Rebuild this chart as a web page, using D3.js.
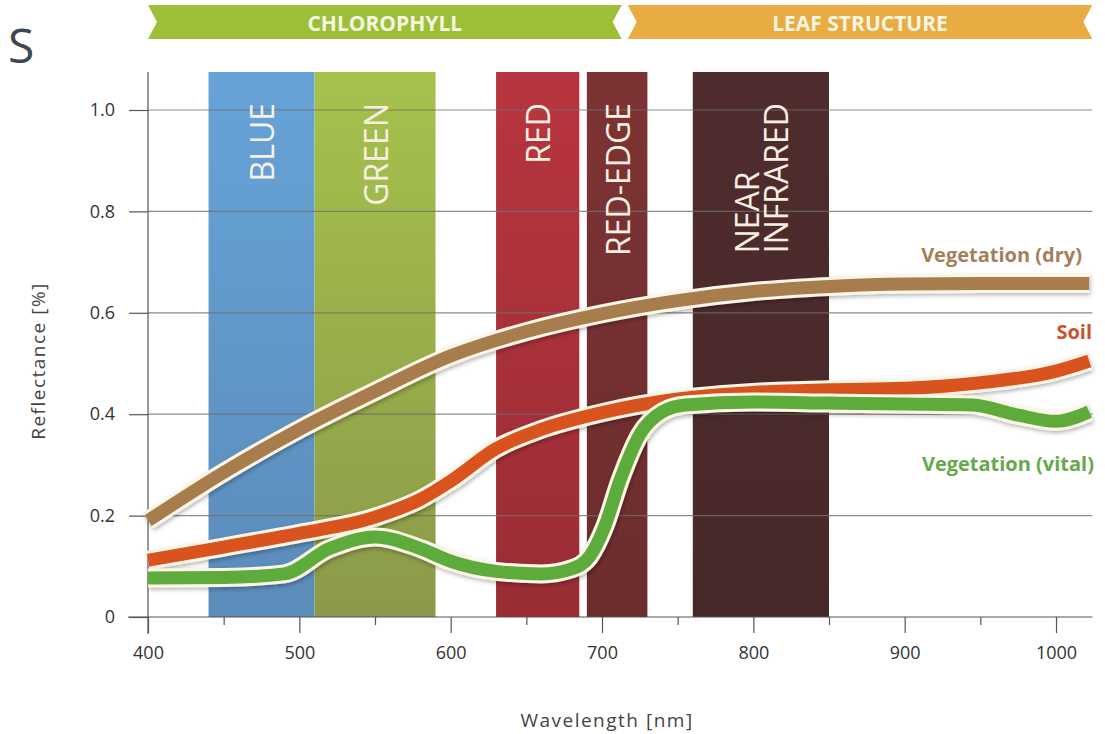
<!DOCTYPE html>
<html>
<head>
<meta charset="utf-8">
<script src="https://cdn.jsdelivr.net/npm/d3@7"></script>
<style>
  body { margin: 0; background: #fff; }
  svg { display: block; font-family: "Open Sans", sans-serif; }
</style>
</head>
<body>
<svg id="chart" width="1105" height="734"></svg>
<script>
// spectral bands (nm)
const bandNames = ['BLUE', 'GREEN', 'RED', 'RED-EDGE', 'NEAR INFRARED'];
const bandStart = [440, 510, 630, 690, 760];
const bandEnd = [510, 590, 685, 730, 850];
const bandColors = [['#67a3d8', '#5b8cba'], ['#a6c24c', '#8b9a4a'], ['#b8353f', '#992c35'], ['#7d3334', '#6c2c2d'], ['#4f2c2e', '#472829']];

// top ribbons
const regionNames = ['CHLOROPHYLL', 'LEAF STRUCTURE'];
const regionStart = [400, 717];
const regionEnd = [713, 1024];
const regionColors = ['#9dbf38', '#e8ac42'];

// reflectance curves
const dryWl = [400, 450, 500, 550, 600, 650, 700, 750, 800, 850, 900, 950, 1000, 1022];
const dryVal = [0.19, 0.285, 0.37, 0.445, 0.515, 0.563, 0.598, 0.624, 0.642, 0.652, 0.657, 0.658, 0.658, 0.658];

const soilWl = [400, 450, 500, 550, 580, 600, 630, 660, 700, 750, 800, 850, 900, 950, 1000, 1022];
const soilVal = [0.112, 0.138, 0.165, 0.197, 0.232, 0.268, 0.332, 0.37, 0.403, 0.43, 0.443, 0.448, 0.451, 0.462, 0.485, 0.505];

const vitalWl = [400, 450, 490, 520, 550, 580, 600, 630, 660, 680, 692, 702, 712, 725, 740, 755, 800, 850, 900, 945, 975, 1000, 1022];
const vitalVal = [0.077, 0.078, 0.085, 0.135, 0.158, 0.135, 0.11, 0.09, 0.085, 0.095, 0.12, 0.18, 0.27, 0.36, 0.405, 0.418, 0.424, 0.422, 0.42, 0.418, 0.398, 0.386, 0.405];

const seriesNames = ['Vegetation (dry)', 'Soil', 'Vegetation (vital)'];
const seriesColors = ['#a87d4e', '#d9531e', '#5dab3b'];
const labelColors = ['#a3805a', '#c9542c', '#65a94a'];

const xTicks = [400, 500, 600, 700, 800, 900, 1000];
const xMinorTicks = [450, 550, 650, 750, 850, 950];
const yTicks = [0, 0.2, 0.4, 0.6, 0.8, 1.0];
const yTickLabels = ['0', '0.2', '0.4', '0.6', '0.8', '1.0'];

const svg = d3.select('#chart');
const x = d3.scaleLinear().domain([400, 1000]).range([148, 1056]);
const y = d3.scaleLinear().domain([0, 1]).range([617, 110]);
const xMax = 1024, yTop = 1.075;
const font = '"Open Sans", sans-serif';

const defs = svg.append('defs');
bandColors.forEach((c, i) => {
  const g = defs.append('linearGradient').attr('id', 'band' + i)
    .attr('x1', 0).attr('y1', 0).attr('x2', 0).attr('y2', 1);
  g.append('stop').attr('offset', '0%').attr('stop-color', c[0]);
  g.append('stop').attr('offset', '100%').attr('stop-color', c[1]);
});
const shadow = defs.append('filter').attr('id', 'shadow')
  .attr('x', '-5%').attr('y', '-20%').attr('width', '110%').attr('height', '140%');
shadow.append('feDropShadow').attr('dx', 1).attr('dy', 2)
  .attr('stdDeviation', 2).attr('flood-color', '#000').attr('flood-opacity', 0.3);

// "S" fragment of a cut-off title
svg.append('text').attr('x', 8).attr('y', 63)
  .attr('font-family', font).attr('font-size', 48).attr('fill', '#3f4852').text('S');

// ribbons
const notch = 9, rTop = 5, rBot = 39;
regionNames.forEach((name, i) => {
  const x0 = x(regionStart[i]), x1 = x(regionEnd[i]), ym = (rTop + rBot) / 2;
  svg.append('path')
    .attr('d', `M${x0},${rTop}L${x1},${rTop}L${x1 - notch},${ym}L${x1},${rBot}L${x0},${rBot}L${x0 + notch},${ym}Z`)
    .attr('fill', regionColors[i]);
  svg.append('text')
    .attr('x', (x0 + x1) / 2).attr('y', ym + 1)
    .attr('text-anchor', 'middle').attr('dominant-baseline', 'central')
    .attr('font-family', font).attr('font-size', 21).attr('font-weight', 700)
    .attr('fill', '#f4f6e2')
    .text(name);
});

// bands
bandNames.forEach((name, i) => {
  svg.append('rect')
    .attr('x', x(bandStart[i])).attr('y', y(yTop))
    .attr('width', x(bandEnd[i]) - x(bandStart[i]))
    .attr('height', y(0) - y(yTop))
    .attr('fill', `url(#band${i})`);
});

// grid lines
svg.append('g').selectAll('line')
  .data(yTicks.slice(1))
  .join('line')
  .attr('x1', x(400)).attr('x2', x(xMax))
  .attr('y1', d => y(d)).attr('y2', d => y(d))
  .attr('stroke', '#6f6f6f').attr('stroke-opacity', 0.8).attr('stroke-width', 1.2);

// band labels (rotated, reading upward, tops aligned)
const labelTop = 103, lineH = 29;
bandNames.forEach((name, i) => {
  const cx = (x(bandStart[i]) + x(bandEnd[i])) / 2;
  const words = name === 'NEAR INFRARED' ? ['NEAR', 'INFRARED'] : [name];
  const texts = words.map((w, j) => svg.append('text')
    .attr('font-family', font).attr('font-size', 32)
    .attr('fill', '#f7efe2')
    .attr('dominant-baseline', 'central')
    .text(w));
  const maxLen = d3.max(texts, t => t.node().getComputedTextLength());
  texts.forEach((t, j) => {
    const off = (j - (words.length - 1) / 2) * lineH;
    if (words.length === 1) {
      t.attr('text-anchor', 'end')
        .attr('transform', `translate(${cx + off},${labelTop}) rotate(-90)`);
    } else {
      // multi-line: line starts aligned at the bottom
      t.attr('text-anchor', 'start')
        .attr('transform', `translate(${cx + off},${labelTop + maxLen}) rotate(-90)`);
    }
  });
});

// axes
const axisColor = '#555';
svg.append('line').attr('x1', x(400)).attr('x2', x(400))
  .attr('y1', y(yTop)).attr('y2', y(0) + 17)
  .attr('stroke', axisColor).attr('stroke-width', 1.2);
svg.append('line').attr('x1', x(400) - 20).attr('x2', x(xMax))
  .attr('y1', y(0)).attr('y2', y(0))
  .attr('stroke', axisColor).attr('stroke-width', 1.2);

const xAxis = svg.append('g').attr('transform', `translate(0,${y(0)})`)
  .call(d3.axisBottom(x).tickValues(xTicks).tickSize(16).tickPadding(13).tickFormat(d3.format('d')));
const xMinor = svg.append('g').attr('transform', `translate(0,${y(0)})`)
  .call(d3.axisBottom(x).tickValues(xMinorTicks).tickSize(8).tickFormat(''));
const yAxis = svg.append('g').attr('transform', `translate(${x(400)},0)`)
  .call(d3.axisLeft(y).tickValues(yTicks).tickSize(19).tickPadding(14)
    .tickFormat((d, i) => yTickLabels[i]));
[xAxis, xMinor, yAxis].forEach(a => {
  a.select('.domain').remove();
  a.selectAll('line').attr('stroke', axisColor).attr('stroke-width', 1.2);
  a.selectAll('text').attr('font-size', 18).attr('fill', '#333')
    .attr('font-family', font);
});

svg.append('text')
  .attr('x', 607).attr('y', 727)
  .attr('text-anchor', 'middle').attr('font-family', font)
  .attr('font-size', 19).attr('letter-spacing', 1.5).attr('fill', '#444')
  .text('Wavelength [nm]');
svg.append('text')
  .attr('transform', `translate(38,361) rotate(-90)`)
  .attr('text-anchor', 'middle').attr('dominant-baseline', 'central')
  .attr('font-family', font)
  .attr('font-size', 19).attr('letter-spacing', 1.5).attr('fill', '#444')
  .text('Reflectance [%]');

// curves
const line = d3.line().x(d => x(d[0])).y(d => y(d[1])).curve(d3.curveMonotoneX);
const series = [
  d3.zip(dryWl, dryVal),
  d3.zip(soilWl, soilVal),
  d3.zip(vitalWl, vitalVal)
];
series.forEach((pts, i) => {
  const g = svg.append('g');
  g.append('path').attr('d', line(pts))
    .attr('fill', 'none').attr('stroke', '#fdf6e6').attr('stroke-width', 19)
    .attr('filter', 'url(#shadow)');
  g.append('path').attr('d', line(pts))
    .attr('fill', 'none').attr('stroke', seriesColors[i]).attr('stroke-width', 13);
});

// curve labels
const labelY = [262, 339, 471];
const labelRight = [1082, 1092, 1094];
seriesNames.forEach((name, i) => {
  svg.append('text')
    .attr('x', labelRight[i]).attr('y', labelY[i])
    .attr('text-anchor', 'end').attr('font-family', font)
    .attr('font-size', 20).attr('font-weight', 700)
    .attr('fill', labelColors[i])
    .text(name);
});
</script>
</body>
</html>
